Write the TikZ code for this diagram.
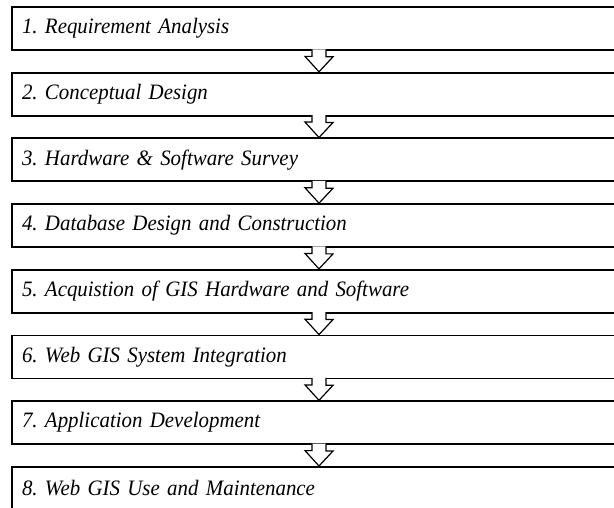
\documentclass[tikz,border=0pt]{standalone}
\usepackage{fontspec}
\setmainfont{Liberation Serif}[FakeStretch=0.95]
\usetikzlibrary{positioning}
\newcommand{\stagefont}{\fontsize{22}{24}\selectfont\itshape\frenchspacing
    \spaceskip=0.17em plus 0.05em\relax}

\begin{document}
\begin{tikzpicture}[x=1pt, y=1pt, node distance=20.9pt]
    \tikzset{stage/.style={draw, line width=1.8pt, minimum height=43pt,
        text width=594pt, inner xsep=10pt, align=left, font=\stagefont}}
    \tikzset{flowarrow/.style={line width=1.2pt, fill=white, line join=miter}}
    \useasboundingbox (0,0) rectangle (614,-508);
    \node[stage] (s1) at (319,-28.5) {1. Requirement Analysis};
    \node[stage, below=of s1] (s2) {2. Conceptual Design};
    \node[stage, below=of s2] (s3) {3. Hardware \& Software Survey};
    \node[stage, below=of s3] (s4) {4. Database Design and Construction};
    \node[stage, below=of s4] (s5) {5. Acquistion of GIS Hardware and Software};
    \node[stage, below=of s5] (s6) {6. Web GIS System Integration};
    \node[stage, below=of s6] (s7) {7. Application Development};
    \node[stage, below=of s7] (s8) {8. Web GIS Use and Maintenance};
    % hollow arrows between the stages
    \draw[flowarrow] ([xshift=-7,yshift=1.5]s1.south) -- ++(0,-7) -- ++(-7,0)
        -- (s2.north) -- ++(14,15) -- ++(-7,0) -- ([xshift=7,yshift=1.5]s1.south);
    \draw[flowarrow] ([xshift=-7,yshift=1.5]s2.south) -- ++(0,-7) -- ++(-7,0)
        -- (s3.north) -- ++(14,15) -- ++(-7,0) -- ([xshift=7,yshift=1.5]s2.south);
    \draw[flowarrow] ([xshift=-7,yshift=1.5]s3.south) -- ++(0,-7) -- ++(-7,0)
        -- (s4.north) -- ++(14,15) -- ++(-7,0) -- ([xshift=7,yshift=1.5]s3.south);
    \draw[flowarrow] ([xshift=-7,yshift=1.5]s4.south) -- ++(0,-7) -- ++(-7,0)
        -- (s5.north) -- ++(14,15) -- ++(-7,0) -- ([xshift=7,yshift=1.5]s4.south);
    \draw[flowarrow] ([xshift=-7,yshift=1.5]s5.south) -- ++(0,-7) -- ++(-7,0)
        -- (s6.north) -- ++(14,15) -- ++(-7,0) -- ([xshift=7,yshift=1.5]s5.south);
    \draw[flowarrow] ([xshift=-7,yshift=1.5]s6.south) -- ++(0,-7) -- ++(-7,0)
        -- (s7.north) -- ++(14,15) -- ++(-7,0) -- ([xshift=7,yshift=1.5]s6.south);
    \draw[flowarrow] ([xshift=-7,yshift=1.5]s7.south) -- ++(0,-7) -- ++(-7,0)
        -- (s8.north) -- ++(14,15) -- ++(-7,0) -- ([xshift=7,yshift=1.5]s7.south);
\end{tikzpicture}
\end{document}
